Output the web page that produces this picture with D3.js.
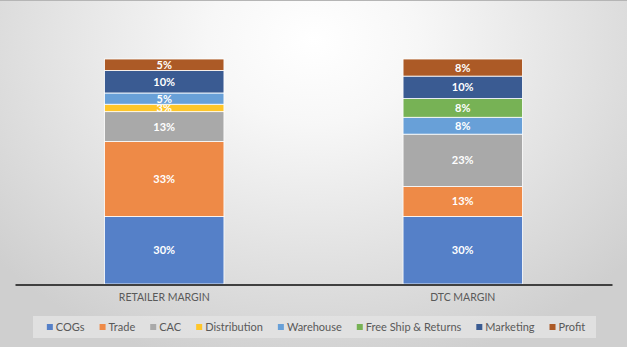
<!DOCTYPE html>
<html><head><meta charset="utf-8">
<script src="https://cdn.jsdelivr.net/npm/d3@7/dist/d3.min.js"></script>
<style>html,body{margin:0;padding:0;overflow:hidden;background:#e0e0e0}svg{display:block}</style>
</head><body>
<script>
const categories = ["RETAILER MARGIN", "DTC MARGIN"];
const seriesNames = ["COGs", "Trade", "CAC", "Distribution", "Warehouse", "Free Ship & Returns", "Marketing", "Profit"];
const cogs         = [30, 30];
const trade        = [33.3, 13.3];
const cac          = [13.3, 23.3];
const distribution = [3.3, 0];
const warehouse    = [5, 7.5];
const freeShip     = [0, 8.3];
const marketing    = [10, 10];
const profit       = [5.1, 7.6];
const seriesValues = [cogs, trade, cac, distribution, warehouse, freeShip, marketing, profit];
const colors = ["#5580C8", "#EE8A47", "#A9A9A9", "#FFC629", "#68A0D8", "#77B255", "#3A5B92", "#AC5A26"];

const W = 627, H = 347;
const svg = d3.select("body").append("svg").attr("width", W).attr("height", H);
const defs = svg.append("defs");
const rg = defs.append("radialGradient").attr("id", "bg")
  .attr("gradientUnits", "userSpaceOnUse").attr("cx", 313).attr("cy", 40).attr("r", 420)
  .attr("gradientTransform", "translate(313,40) scale(1,0.8) translate(-313,-40)");
rg.append("stop").attr("offset", "0").attr("stop-color", "#ffffff");
rg.append("stop").attr("offset", "0.25").attr("stop-color", "#f7f7f7");
rg.append("stop").attr("offset", "1").attr("stop-color", "#cfcfcf");
svg.append("rect").attr("width", W).attr("height", H).attr("fill", "url(#bg)");
svg.append("line").attr("x1", 0).attr("x2", W).attr("y1", 0.5).attr("y2", 0.5).attr("stroke", "#b5b5b5");

const table = categories.map((c, i) => {
  const o = {cat: c};
  seriesNames.forEach((s, j) => o[s] = seriesValues[j][i]);
  return o;
});
const stacked = d3.stack().keys(seriesNames)(table);

const x = d3.scaleBand().domain(categories).range([15, 612]).paddingInner(0.6).paddingOuter(0.3);
const y = d3.scaleLinear().domain([0, 100]).range([284, 59]);

const g = svg.append("g");
stacked.forEach((layer, j) => {
  const lg = g.append("g");
  layer.forEach((d, i) => {
    if (d[1] - d[0] <= 0) return;
    const bx = x(categories[i]), bw = x.bandwidth();
    lg.append("rect").attr("x", bx).attr("width", bw)
      .attr("y", y(d[1])).attr("height", y(d[0]) - y(d[1]))
      .attr("fill", colors[j]).attr("stroke", "#ffffff").attr("stroke-width", 0.8);
    lg.append("text").attr("x", bx + bw / 2).attr("y", (y(d[0]) + y(d[1])) / 2)
      .attr("dy", "0.36em").attr("text-anchor", "middle")
      .attr("fill", "#ffffff").attr("font-family", "Lato, 'Open Sans', sans-serif")
      .attr("font-size", 11).attr("font-weight", 700)
      .text(Math.round(d[1] - d[0]) + "%");
  });
});

const axis = d3.axisBottom(x).tickSize(0).tickPadding(9);
const ag = svg.append("g").attr("transform", "translate(0,284.5)").call(axis);
ag.select(".domain").attr("stroke", "#404040").attr("stroke-width", 2);
ag.selectAll("text").attr("fill", "#595959").attr("font-family", "Lato, 'Open Sans', sans-serif").attr("font-size", 10.5);

// legend
svg.append("rect").attr("x", 33).attr("y", 316).attr("width", 563).attr("height", 22).attr("fill", "#e4e4e4").attr("opacity", 0.8);
const leg = svg.append("g");
let cx = 0;
const items = [];
seriesNames.forEach((s, j) => {
  const it = leg.append("g");
  it.append("rect").attr("x", 0).attr("y", -3).attr("width", 6).attr("height", 6).attr("fill", colors[j]);
  const t = it.append("text").attr("x", 9).attr("dy", "0.35em").attr("fill", "#595959")
    .attr("font-family", "Lato, 'Open Sans', sans-serif").attr("font-size", 11).text(s);
  const w = 9 + t.node().getComputedTextLength();
  it.attr("transform", `translate(${cx},327)`);
  cx += w + 15;
});
const total = cx - 15;
leg.attr("transform", `translate(${316 - total / 2},0)`);
</script>
</body></html>
